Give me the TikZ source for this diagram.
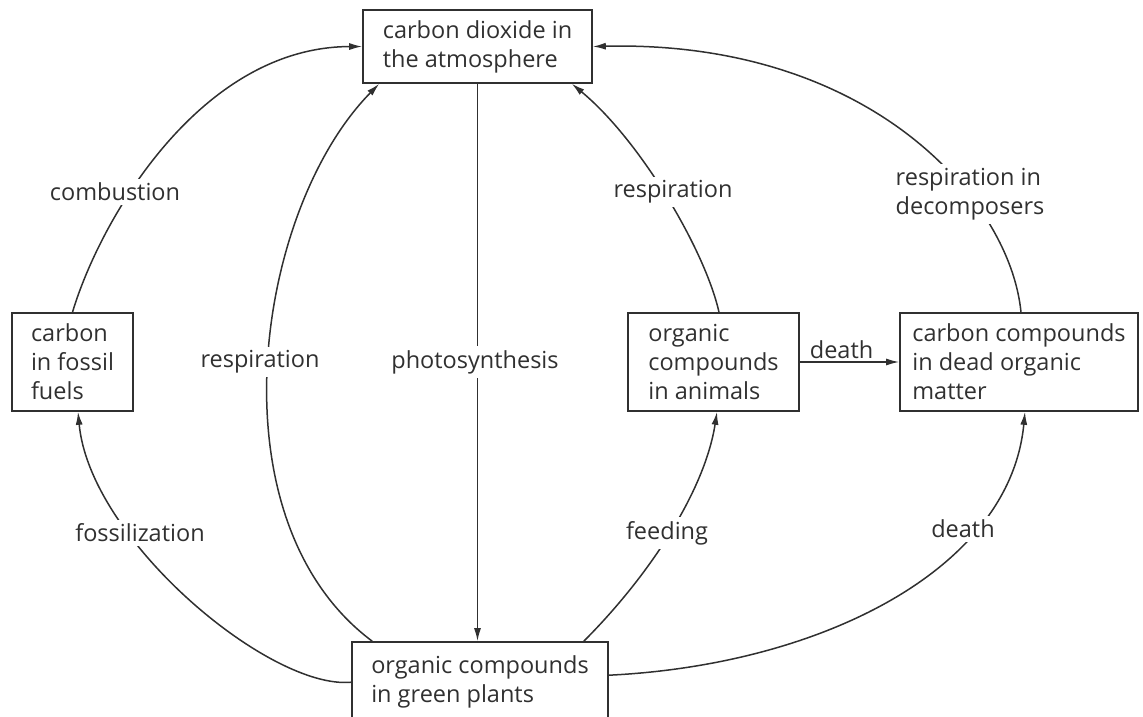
\documentclass[tikz,border=0pt]{standalone}
\usepackage{fontspec}
\setmainfont{Open Sans}
\usetikzlibrary{arrows.meta, positioning}
\definecolor{ink}{HTML}{303030}

\begin{document}
\begin{tikzpicture}[
        x=1pt, y=1pt,
        >={Latex[length=13pt, width=7pt]},
        font=\fontsize{23.5}{29}\selectfont,
        box/.style={draw=ink, line width=1.6pt, text=ink, align=left, inner sep=0pt},
        flow/.style={->, draw=ink, line width=1.5pt},
        lbl/.style={fill=white, text=ink, inner sep=4pt, align=left}
    ]
        \useasboundingbox (0,-717) rectangle (1143,0);
        \clip (0,-717) rectangle (1143,0);

        % reservoirs
        \node[box, minimum width=229pt, minimum height=73pt] (atm) at (477.5,-46.5)
            {carbon dioxide in\\the atmosphere};
        \node[box, minimum width=121pt, minimum height=98pt] (fossil) at (72.5,-362)
            {carbon\\in fossil\\fuels};
        \node[box, minimum width=171pt, minimum height=98pt] (animals) at (713.5,-362)
            {organic\\compounds\\in animals};
        \node[box, minimum width=238pt, minimum height=98pt] (dead) at (1019,-362)
            {carbon compounds\\in dead organic\\matter};
        \node[box, minimum width=256pt, minimum height=80pt] (plants) at (480,-682)
            {organic compounds\\in green plants};

        % flows into the atmosphere
        \draw[flow] (fossil.north) .. controls (100,-220) and (200,-47) .. (atm.west);
        \draw[flow] ([xshift=21pt]plants.north west) .. controls (210,-520) and (255,-210) .. ([xshift=17pt]atm.south west);
        \draw[flow] ([xshift=5.5pt]animals.north) .. controls (705,-250) and (640,-140) .. ([xshift=-21pt]atm.south east);
        \draw[flow] ([xshift=2pt]dead.north) .. controls (1010,-200) and (870,-40) .. (atm.east);

        % photosynthesis
        \draw[flow] (atm.south) -- (atm.south |- plants.north);

        % flows out of green plants
        \draw[flow] ([yshift=-41pt]plants.north west) .. controls (270,-690) and (90,-540) .. ([xshift=5.5pt]fossil.south);
        \draw[flow] ([xshift=-25pt]plants.north east) .. controls (650,-575) and (705,-490) .. ([xshift=3.5pt]animals.south);
        \draw[flow] ([yshift=-34pt]plants.north east) .. controls (820,-665) and (1010,-570) .. ([xshift=6pt]dead.south);

        % animals to dead matter
        \draw[flow] (animals) -- (dead) node[pos=.42, above, text=ink, inner sep=3pt] (ldeath1) {death};

        % labels on the curves
        \node[lbl] (lcomb) at (115,-192) {combustion};
        \node[lbl] (lresp1) at (260,-362) {respiration};
        \node[lbl] (lphoto) at (475,-362) {photosynthesis};
        \node[lbl] (lresp2) at (673,-192) {respiration};
        \node[lbl] (ldecomp) at (970,-194) {respiration in\\decomposers};
        \node[lbl] (lfossil) at (140,-533) {fossilization};
        \node[lbl] (lfeed) at (667,-533) {feeding};
        \node[lbl] (ldeath2) at (963,-529) {death};

    \end{tikzpicture}
\end{document}
